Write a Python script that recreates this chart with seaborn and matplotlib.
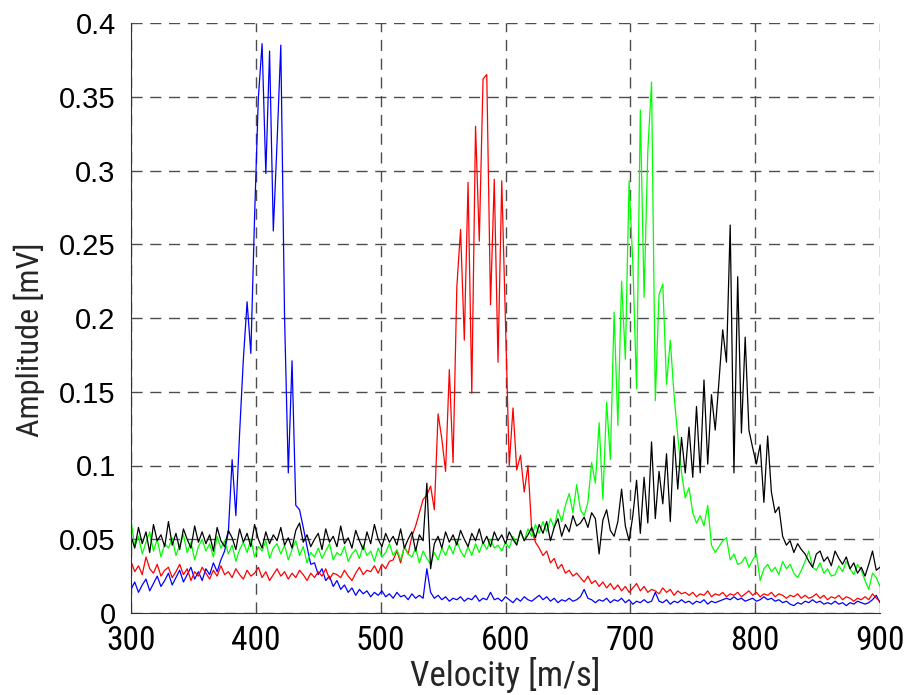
"""
plot.py
=======
Four velocity distributions (amplitude vs. velocity), MATLAB-style figure.
Amplitudes are stored in microvolts on a 3 m/s grid and converted to mV.
"""

import numpy as np
import pandas as pd
import matplotlib
matplotlib.use("Agg")
import matplotlib.pyplot as plt
from matplotlib import font_manager
import seaborn as sns

# Velocity sampling grid [m/s]
velocity = np.arange(300, 901, 3)

# Amplitudes [uV], one row = 10 samples = 30 m/s (row starts: 300, 330, ... 870, then 900)
blue_uv = [
    16, 21, 14, 19, 23, 15, 20, 25, 18, 22,
    27, 19, 24, 29, 21, 26, 31, 23, 28, 22,
    30, 26, 34, 28, 36, 42, 55, 104, 66, 122,
    172, 211, 176, 269, 349, 386, 298, 381, 259, 319,
    385, 201, 95, 171, 73, 70, 58, 45, 33, 34,
    26, 30, 22, 25, 18, 22, 16, 19, 14, 17,
    12, 16, 13, 15, 11, 14, 12, 15, 11, 13,
    10, 14, 11, 12, 9, 13, 10, 12, 10, 30,
    14, 10, 12, 9, 11, 8, 10, 9, 11, 8,
    10, 9, 12, 8, 10, 9, 14, 9, 10, 8,
    11, 9, 7, 10, 8, 11, 9, 8, 10, 12,
    9, 11, 8, 10, 7, 9, 8, 10, 8, 9,
    11, 16, 10, 9, 7, 9, 8, 10, 7, 9,
    8, 10, 7, 9, 6, 8, 7, 9, 7, 8,
    14, 8, 7, 9, 6, 8, 7, 9, 7, 8,
    6, 8, 7, 9, 6, 8, 7, 8, 9, 10,
    9, 11, 9, 10, 8, 9, 10, 8, 9, 11,
    9, 10, 8, 9, 7, 8, 6, 5, 7, 6,
    8, 7, 9, 7, 8, 6, 7, 6, 8, 6,
    7, 5, 7, 6, 8, 7, 6, 7, 9, 12,
    7,
]

red_uv = [
    35, 28, 32, 26, 38, 30, 27, 33, 25, 29,
    31, 24, 28, 33, 26, 30, 22, 28, 25, 31,
    27, 23, 29, 25, 32, 26, 28, 24, 30, 26,
    23, 29, 25, 27, 31, 24, 28, 22, 26, 30,
    25, 28, 23, 27, 24, 29, 26, 22, 27, 24,
    28, 25, 30, 23, 27, 26, 24, 29, 25, 22,
    27, 31, 26, 29, 28, 32, 27, 33, 30, 35,
    36, 42, 34, 45, 40, 52, 59, 68, 77, 80,
    86, 70, 135, 118, 96, 165, 102, 221, 260, 185,
    292, 149, 330, 252, 362, 365, 209, 294, 170, 293,
    197, 100, 139, 97, 107, 82, 100, 56, 48, 44,
    39, 42, 34, 37, 30, 33, 27, 29, 25, 27,
    24, 21, 25, 20, 22, 18, 21, 17, 20, 16,
    19, 15, 18, 14, 17, 20, 15, 18, 14, 16,
    15, 13, 17, 14, 16, 12, 15, 13, 14, 12,
    14, 11, 13, 12, 15, 11, 13, 12, 14, 11,
    13, 12, 14, 11, 13, 15, 12, 14, 11, 13,
    12, 14, 11, 13, 12, 10, 12, 11, 13, 10,
    12, 10, 11, 13, 10, 12, 9, 11, 10, 12,
    9, 11, 10, 8, 10, 9, 11, 9, 13, 10,
    8,
]

green_uv = [
    63, 45, 52, 40, 48, 55, 42, 50, 38, 47,
    44, 51, 39, 46, 53, 41, 48, 36, 45, 50,
    42, 47, 38, 52, 44, 49, 40, 46, 35, 43,
    48, 41, 50, 38, 45, 42, 49, 37, 44, 47,
    40, 46, 36, 43, 49, 39, 45, 34, 41, 38,
    44, 37, 42, 47, 36, 41, 39, 45, 35, 40,
    43, 37, 46, 39, 42, 35, 44, 38, 41, 47,
    39, 43, 36, 45, 40, 38, 44, 34, 42, 37,
    33, 41, 36, 44, 39, 46, 40, 49, 42, 38,
    45, 39, 47, 41, 48, 43, 50, 44, 46, 42,
    48, 44, 52, 47, 55, 49, 57, 52, 60, 54,
    62, 55, 64, 58, 70, 62, 73, 81, 68, 87,
    70, 66, 75, 102, 88, 129, 77, 143, 104, 204,
    127, 225, 172, 293, 237, 152, 341, 214, 313, 360,
    144, 216, 223, 155, 185, 148, 120, 95, 78, 85,
    68, 61, 66, 59, 73, 46, 41, 45, 49, 51,
    36, 40, 33, 34, 38, 31, 36, 40, 22, 30,
    33, 28, 31, 26, 35, 30, 33, 27, 24, 29,
    35, 42, 31, 29, 34, 27, 30, 25, 26, 32,
    28, 35, 30, 26, 33, 29, 22, 16, 27, 24,
    18,
]

black_uv = [
    52, 44, 58, 47, 55, 41, 60, 49, 53, 45,
    62, 46, 54, 43, 57, 50, 44, 59, 48, 55,
    47, 53, 42, 58, 49, 45, 56, 51, 43, 57,
    48, 54, 45, 60, 50, 44, 55, 47, 53, 49,
    58, 46, 51, 44, 56, 61, 48, 53, 45, 50,
    54, 43, 57, 48, 52, 45, 59, 47, 51, 44,
    56, 49, 43, 55, 47, 60, 50, 45, 54, 48,
    52, 46, 57, 44, 50, 55, 42, 53, 49, 88,
    30, 47, 52, 44, 55, 48, 53, 46, 56, 50,
    45, 54, 49, 57, 47, 52, 45, 55, 49, 53,
    47, 55, 50, 46, 56, 49, 53, 58, 51, 60,
    54, 62, 49, 58, 64, 52, 60, 55, 66, 59,
    61, 65, 58, 68, 64, 40, 63, 70, 56, 52,
    62, 84, 59, 49, 66, 90, 54, 92, 61, 116,
    64, 96, 74, 108, 62, 120, 84, 119, 95, 126,
    92, 140, 95, 158, 101, 148, 124, 157, 192, 170,
    263, 95, 228, 122, 187, 124, 112, 101, 114, 75,
    120, 82, 68, 72, 52, 46, 49, 41, 47, 43,
    40, 35, 31, 40, 42, 35, 38, 32, 42, 37,
    33, 38, 30, 34, 27, 31, 25, 33, 42, 29,
    31,
]

series_names = ["blue", "red", "green", "black"]
series_colors = ["#0000ff", "#ff0000", "#00ff00", "#000000"]

xticks = [300, 400, 500, 600, 700, 800, 900]
xtick_labels = ["300", "400", "500", "600", "700", "800", "900"]
yticks = [0, 0.05, 0.1, 0.15, 0.2, 0.25, 0.3, 0.35, 0.4]
ytick_labels = ["0", "0.05", "0.1", "0.15", "0.2", "0.25", "0.3", "0.35", "0.4"]


def build_frame():
    frames = []
    for name, values in zip(series_names, [blue_uv, red_uv, green_uv, black_uv]):
        frames.append(pd.DataFrame({
            "velocity": velocity,
            "amplitude": np.asarray(values, dtype=float) / 1000.0,  # uV -> mV
            "series": name,
        }))
    return pd.concat(frames, ignore_index=True)


def pick_narrow_font():
    # the reference uses a condensed face for the x labels; use one if we have it
    installed = set(font_manager.get_font_names())
    for name in ["Liberation Sans Narrow", "DejaVu Sans Condensed", "Roboto Condensed",
                 "Open Sans Condensed", "Noto Sans Condensed"]:
        if name in installed:
            return name, True
    return "Liberation Sans", False


def main():
    sns.set_style("white")
    plt.rcParams["font.family"] = ["Liberation Sans", "DejaVu Sans"]

    narrow, is_narrow = pick_narrow_font()

    df = build_frame()

    fig = plt.figure(figsize=(9.16, 6.95), dpi=100)
    ax = fig.add_axes([131 / 916, 1 - 613 / 695, 749 / 916, 590 / 695])

    sns.lineplot(data=df, x="velocity", y="amplitude", hue="series",
                 hue_order=series_names, palette=series_colors,
                 estimator=None, linewidth=0.9, legend=False, ax=ax)

    ax.set_xlim(300, 900)
    ax.set_ylim(0, 0.4)
    ax.set_xticks(xticks)
    ax.set_xticklabels(xtick_labels, fontsize=24 if is_narrow else 21, family=narrow)
    ax.set_yticks(yticks)
    ax.set_yticklabels(ytick_labels, fontsize=21)
    ax.tick_params(direction="in", length=5, width=0.8, top=False, right=False,
                   colors="black")
    ax.tick_params(axis="x", pad=9)
    ax.tick_params(axis="y", pad=11)

    # dashed MATLAB-like grid, box off
    ax.grid(True, linestyle=(0, (8, 5.5)), color="0.3", linewidth=1.0)
    ax.set_axisbelow(True)
    for side in ["top", "right"]:
        ax.spines[side].set_visible(False)
    for side in ["left", "bottom"]:
        ax.spines[side].set_color("0.2")
        ax.spines[side].set_linewidth(0.8)

    ax.set_xlabel("Velocity [m/s]", fontsize=25 if is_narrow else 22, family=narrow)
    ax.set_ylabel("Amplitude [mV]", fontsize=23 if is_narrow else 20, family=narrow)
    ax.xaxis.set_label_coords(0.5, -0.074)
    ax.yaxis.set_label_coords(-0.115, 0.463)

    fig.savefig("out.png", dpi=100)
    plt.close(fig)


if __name__ == "__main__":
    main()
